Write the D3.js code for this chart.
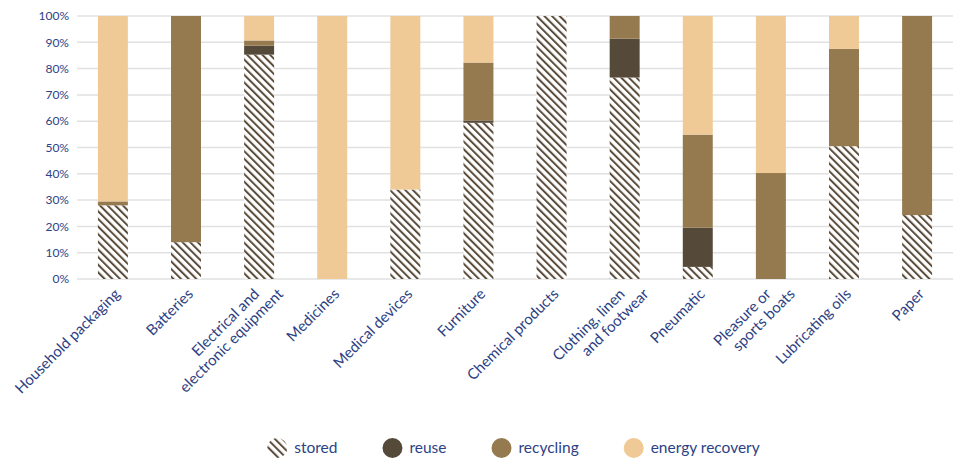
<!DOCTYPE html>
<html>
<head>
<meta charset="utf-8">
<script src="https://cdn.jsdelivr.net/npm/d3@7"></script>
<style>
  body { margin: 0; background: #fff; }
  text { font-family: Lato, "Noto Sans", sans-serif; fill: #2d3f85; }
</style>
</head>
<body>
<svg width="957" height="458"></svg>
<script>
const svg = d3.select('svg');

// data (percent of each category)
const categories = [
  'Household packaging', 'Batteries', 'Electrical and\nelectronic equipment',
  'Medicines', 'Medical devices', 'Furniture', 'Chemical products',
  'Clothing, linen\nand footwear', 'Pneumatic', 'Pleasure or\nsports boats',
  'Lubricating oils', 'Paper'
];
const stored         = [28, 14, 85.3, 0, 34, 59.4, 100, 76.6, 4.6, 0, 50.5, 24.3];
const reuse          = [0, 0, 3.4, 0, 0, 0.9, 0, 14.8, 14.9, 0, 0, 0];
const recycling      = [1.5, 86, 2, 0, 0, 22, 0, 8.6, 35.4, 40.3, 37, 75.7];
const energyRecovery = [70.5, 0, 9.3, 100, 66, 17.7, 0, 0, 45.1, 59.7, 12.5, 0];
const seriesKeys = ['stored', 'reuse', 'recycling', 'energy recovery'];
const yTicks = d3.range(0, 101, 10);

const table = categories.map((c, i) => ({
  category: c,
  'stored': stored[i],
  'reuse': reuse[i],
  'recycling': recycling[i],
  'energy recovery': energyRecovery[i]
}));

const plotLeft = 77, plotRight = 953, plotTop = 16, plotBottom = 279;

const x = d3.scaleBand()
  .domain(categories)
  .range([plotLeft, plotRight])
  .paddingInner(0.59)
  .paddingOuter(0.286);

const y = d3.scaleLinear()
  .domain([0, 100])
  .range([plotBottom, plotTop]);

const colors = d3.scaleOrdinal()
  .domain(seriesKeys)
  .range(['url(#hatch)', '#554a39', '#967a4f', '#f0ca96']);

// hatch pattern for "stored"
const defs = svg.append('defs');
const pat = defs.append('pattern')
  .attr('id', 'hatch')
  .attr('patternUnits', 'userSpaceOnUse')
  .attr('width', 5.4)
  .attr('height', 10)
  .attr('patternTransform', 'rotate(-45)');
pat.append('rect').attr('width', 5.4).attr('height', 10).attr('fill', '#fff');
pat.append('line')
  .attr('x1', 1).attr('x2', 1).attr('y1', 0).attr('y2', 10)
  .attr('stroke', '#5a4b3a').attr('stroke-width', 2);

// gridlines + y labels
const grid = svg.append('g');
grid.selectAll('line')
  .data(yTicks)
  .join('line')
    .attr('x1', plotLeft).attr('x2', plotRight)
    .attr('y1', d => y(d)).attr('y2', d => y(d))
    .attr('stroke', '#e1e1e1')
    .attr('stroke-width', 1.5);

grid.selectAll('text')
  .data(yTicks)
  .join('text')
    .attr('x', 69)
    .attr('y', d => y(d))
    .attr('dy', '0.35em')
    .attr('text-anchor', 'end')
    .style('font-size', '12px')
    .text(d => d + '%');

// stacked bars
const stack = d3.stack().keys(seriesKeys)(table);

svg.append('g')
  .selectAll('g')
  .data(stack)
  .join('g')
    .attr('fill', s => colors(s.key))
  .selectAll('rect')
  .data(s => s)
  .join('rect')
    .attr('x', d => x(d.data.category))
    .attr('width', x.bandwidth())
    .attr('y', d => y(d[1]))
    .attr('height', d => y(d[0]) - y(d[1]));

// rotated category labels
const labels = svg.append('g');
categories.forEach(c => {
  const lines = c.split('\n');
  const cx = x(c) + x.bandwidth() / 2;
  lines.forEach((ln, i) => {
    const dx = lines.length === 1 ? 8 : 1 + i * 24;
    labels.append('text')
      .attr('transform', `translate(${cx + dx}, 295) rotate(-45)`)
      .attr('text-anchor', 'end')
      .style('font-size', '15px')
      .text(ln);
  });
});

// legend
const legend = svg.append('g');
let lx = 0;
seriesKeys.forEach(k => {
  const g = legend.append('g');
  g.append('circle')
    .attr('cx', 10).attr('cy', 0).attr('r', 10)
    .attr('fill', colors(k));
  const t = g.append('text')
    .attr('x', 27).attr('y', 0).attr('dy', '0.35em')
    .style('font-size', '15.5px')
    .text(k);
  const w = 27 + t.node().getComputedTextLength();
  g.attr('transform', `translate(${lx}, 0)`);
  lx += w + 45;
});
const legendWidth = lx - 45;
legend.attr('transform', `translate(${(267 + 760) / 2 - legendWidth / 2}, 448)`);
</script>
</body>
</html>
